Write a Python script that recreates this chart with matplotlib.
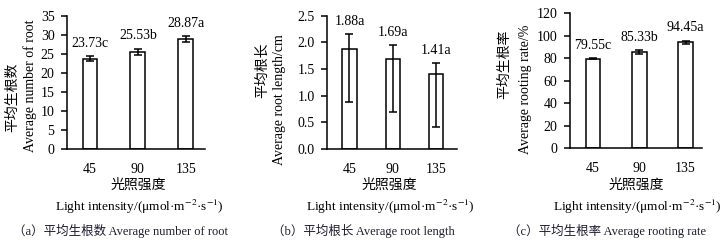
import matplotlib
matplotlib.use('Agg')
import matplotlib.pyplot as plt

plt.rcParams['font.family'] = ['Liberation Serif', 'Noto Sans CJK SC']
plt.rcParams['mathtext.fontset'] = 'stix'
plt.rcParams['font.size'] = 10
plt.rcParams['axes.linewidth'] = 1.1

W, H = 723, 243

categories = ['45', '90', '135']

root_num = [23.73, 25.53, 28.87]
root_num_err = [0.7, 0.8, 0.7]
root_num_sig = ['c', 'b', 'a']

root_len = [1.88, 1.69, 1.41]
root_len_err_low = [1.0, 0.99, 0.99]
root_len_err_high = [0.27, 0.26, 0.2]
root_len_sig = ['a', 'a', 'a']

root_rate = [79.55, 85.33, 94.45]
root_rate_err = [0.6, 1.8, 1.3]
root_rate_sig = ['c', 'b', 'a']

xlabel_cn = '光照强度'
xlabel_en = 'Light intensity/(μmol·m$^{-2}$·s$^{-1}$)'


def px_axes(fig, left, right, top, bottom):
    return fig.add_axes([left / W, 1 - bottom / H, (right - left) / W, (bottom - top) / H])


def ftext(fig, x, y, s, **kw):
    fig.text(x / W, 1 - y / H, s, ha='center', va='center', **kw)


def draw_panel(ax, vals, err, sig, fmt, ymax, ystep, xlim, width):
    x = list(range(len(categories)))
    ax.bar(x, vals, width=width, color='white', edgecolor='black', linewidth=1.1,
           yerr=err, capsize=3.2, error_kw={'elinewidth': 1.1, 'capthick': 1.1, 'ecolor': 'black'})
    if len(err) == 2:
        tops = [v + e for v, e in zip(vals, err[1])]
    else:
        tops = [v + e for v, e in zip(vals, err)]
    for xi, v, t, s in zip(x, vals, tops, sig):
        ax.annotate(fmt.format(v) + s, (xi, t), xytext=(0, 4.5), textcoords='offset points',
                    ha='center', va='bottom')
    ax.set_xlim(*xlim)
    ax.set_ylim(0, ymax)
    yt = []
    v = 0
    while v <= ymax + 1e-9:
        yt.append(v)
        v += ystep
    ax.set_yticks(yt)
    ax.set_xticks(x)
    ax.set_xticklabels(categories)
    ax.spines['top'].set_visible(False)
    ax.spines['right'].set_visible(False)
    ax.tick_params(axis='x', length=0, pad=10)
    ax.tick_params(axis='y', direction='out', length=4, width=1.1, pad=5)


fig = plt.figure(figsize=(W / 100, H / 100), dpi=100)

# (a)
ax1 = px_axes(fig, 67, 205, 15.7, 149)
draw_panel(ax1, root_num, root_num_err, root_num_sig, '{:.2f}', 35, 5, (-0.48, 2.4), 0.31)
ax1.set_yticklabels([str(int(t)) for t in ax1.get_yticks()])

# (b)
ax2 = px_axes(fig, 327.3, 456.7, 15.7, 149)
draw_panel(ax2, root_len, [root_len_err_low, root_len_err_high], root_len_sig, '{:.2f}',
           2.5, 0.5, (-0.51, 2.47), 0.33)
ax2.set_yticklabels(['{:.1f}'.format(t) for t in ax2.get_yticks()])

# (c)
ax3 = px_axes(fig, 570, 701.7, 13.3, 148.3)
draw_panel(ax3, root_rate, root_rate_err, root_rate_sig, '{:.2f}', 120, 20, (-0.5, 2.35), 0.32)
ax3.set_yticklabels([str(int(t)) for t in ax3.get_yticks()])

# y labels
ftext(fig, 13, 97, '平均生根数', rotation=90)
ftext(fig, 30, 86, 'Average number of root', rotation=90)
ftext(fig, 262, 70, '平均根长', rotation=90)
ftext(fig, 280, 100, 'Average root length/cm', rotation=90)
ftext(fig, 505, 64, '平均生根率', rotation=90)
ftext(fig, 525, 89, 'Average rooting rate/%', rotation=90)

# x labels
for cx in (138, 389, 636):
    ftext(fig, cx, 185, xlabel_cn)
    ftext(fig, cx + 1, 207, xlabel_en, fontsize=9.6)

# captions
cap_color = '#1e1e30'
ftext(fig, 121, 231, '（a）平均生根数 Average number of root', fontsize=9, color=cap_color)
ftext(fig, 363, 231, '（b）平均根长 Average root length', fontsize=9, color=cap_color)
ftext(fig, 607, 231, '（c）平均生根率 Average rooting rate', fontsize=9, color=cap_color)

fig.savefig('out.png', dpi=100)
